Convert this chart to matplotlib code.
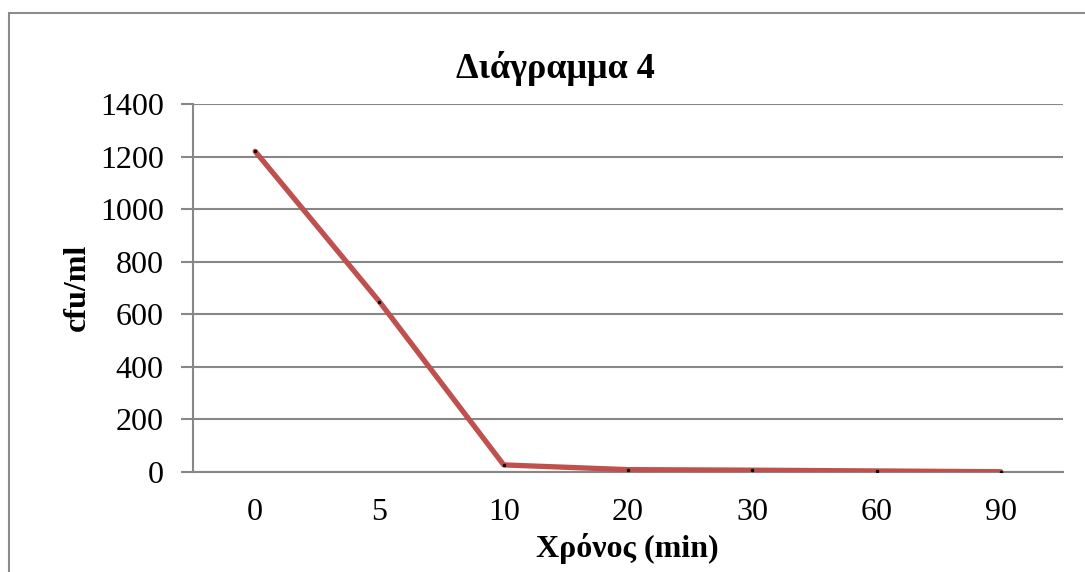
#!/usr/bin/env python3

from matplotlib import pyplot as plt
from matplotlib.patches import Rectangle
import numpy as np

plt.rcParams["font.family"] = ["Liberation Serif", "DejaVu Serif"]

# Data
times = ["0", "5", "10", "20", "30", "60", "90"]
cfu = [1220, 648, 27, 9, 7, 4, 1]

title = "Διάγραμμα 4"
xlabel = "Χρόνος (min)"
ylabel = "cfu/ml"

grid_color = "#878787"
line_color = "#C0504D"


def main():
    fig = plt.figure(figsize=(10.85, 5.72), dpi=100)

    # outer chart frame (only top/left visible in the crop)
    fig.patches.append(Rectangle((9 / 1085, -0.1), 1.2, 1 - 13 / 572 + 0.1,
                                 transform=fig.transFigure, fill=False,
                                 edgecolor="#8c8c8c", linewidth=1.5))

    ax = fig.add_axes([193 / 1085, 1 - 472 / 572,
                       (1063 - 193) / 1085, (472 - 104) / 572])

    x = np.arange(len(times))
    ax.plot(x, cfu, color=line_color, linewidth=3.8, solid_capstyle="round",
            solid_joinstyle="round", zorder=3)
    ax.plot(x, cfu, linestyle="none", marker="o", markersize=1.5,
            color="black", zorder=4)

    ax.set_xlim(-0.5, len(times) - 0.5)
    ax.set_ylim(0, 1400)
    ax.set_yticks(np.arange(0, 1401, 200))
    ax.set_xticks(x)
    ax.set_xticklabels(times)

    ax.grid(axis="y", color=grid_color, linewidth=1.5)
    ax.set_axisbelow(True)
    for side in ["top", "right"]:
        ax.spines[side].set_visible(False)
    for side in ["left", "bottom"]:
        ax.spines[side].set_color(grid_color)
        ax.spines[side].set_linewidth(1.5)

    ax.tick_params(axis="y", length=9, width=1.5, color=grid_color,
                   labelsize=23, pad=12)
    ax.tick_params(axis="x", length=0, labelsize=23, pad=19)

    fig.text(555 / 1085, 1 - 68 / 572, title, fontsize=26, fontweight="bold",
             ha="center", va="center")
    fig.text(627 / 1085, 1 - 549 / 572, xlabel, fontsize=23,
             fontweight="bold", ha="center", va="center")
    fig.text(77 / 1085, 1 - 287 / 572, ylabel, fontsize=23,
             fontweight="bold", ha="center", va="center", rotation=90)

    fig.savefig("out.png", dpi=100)


if __name__ == "__main__":
    main()
